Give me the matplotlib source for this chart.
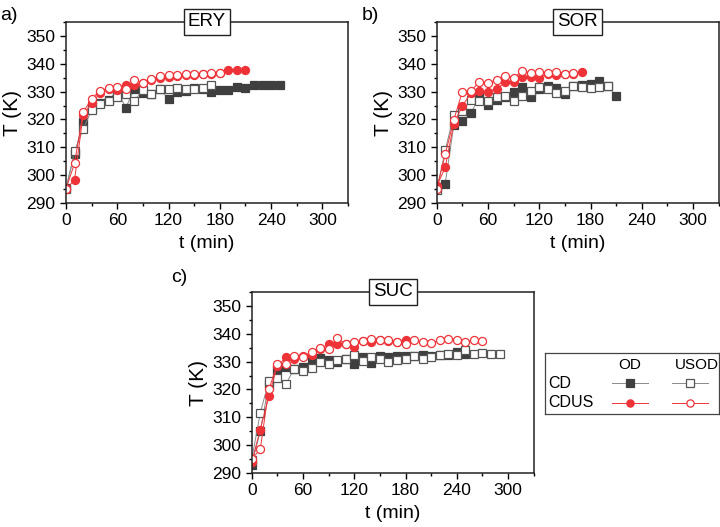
import numpy as np
import matplotlib
matplotlib.use('Agg')
import matplotlib.pyplot as plt
from matplotlib.ticker import MultipleLocator
from matplotlib.lines import Line2D

plt.rcParams['font.family'] = ['Liberation Sans', 'DejaVu Sans']

# ---- data ----
t = np.arange(0, 300, 10)

ery_cd_od = [295.4, 307.6, 319, 324, 326, 327, 330.3, 324.2, 331, 329.5, 329, 331, 327.3,
             330, 330.3, 331.3, 331, 330, 330.5, 330.5, 331.7, 331.3, 332.5, 332.2, 332.2, 332.4]
ery_cd_usod = [295, 308.5, 316.5, 323.3, 325.6, 326.8, 327.9, 329, 326.6, 330.7, 329.3, 330.8,
               330.8, 331.4, 330.8, 331, 331.3, 332.2]
ery_cdus_od = [295, 298.3, 321.5, 325.8, 329.5, 331, 330.5, 332.4, 332.2, 333, 334, 335, 335.3,
               335.5, 336, 336, 336.3, 336.5, 336.8, 337.7, 337.7, 337.6]
ery_cdus_usod = [295, 304.3, 322.5, 327.5, 330.3, 331.3, 331.8, 330.8, 334.3, 333, 334.6, 335.6,
                 336, 335.9, 336.2, 336.2, 336.2, 336.7, 336.8]

sor_cd_od = [295.8, 297, 318, 319.5, 322.2, 328.2, 325.2, 327, 328, 330, 331.8, 328.2, 331,
             332, 331.3, 329.2, 332, 332.3, 332.7, 333.8, 332, 328.5]
sor_cd_usod = [294.5, 309, 321.5, 323, 327, 326.5, 326.5, 328, 328.3, 326.7, 328.5, 330.2,
               331.5, 331, 329.5, 330.2, 332, 331.5, 331.2, 331.5, 332]
sor_cdus_od = [296, 302.8, 318.5, 324.8, 329.5, 330.2, 330, 331, 333.3, 333.5, 335.2, 335.3,
               335, 336.5, 335.8, 336.3, 336.5, 337]
sor_cdus_usod = [295, 307.5, 319.8, 330, 330.3, 333.4, 333.2, 334.2, 335.7, 335, 337.3, 336.8,
                 336.9, 336.7, 336.9, 336.5, 336.8]

suc_cd_od = [293, 305, 322, 326.9, 328.1, 327.5, 328, 330.5, 331.3, 330.5, 330, 331, 329,
             331.5, 329.5, 332, 331.5, 332, 332, 332, 332.5, 332, 332.5, 332.5, 333.5, 332.7]
suc_cd_usod = [294.8, 311.5, 323, 324, 322, 327.5, 326.5, 327.8, 330, 329, 330.5, 331, 332.3,
               330.2, 331.8, 331, 330, 330.5, 331, 332, 331, 331.8, 332.3, 332.6, 332.5, 334.3,
               332.8, 333.2, 332.8, 332.8]
suc_cdus_od = [294, 305.5, 317.6, 328.5, 331.5, 331, 332, 332.5, 334.5, 336.3, 336.5, 336.5,
               335.3, 337.5, 337, 337.8, 337.5, 337, 337.7]
suc_cdus_usod = [295, 298.5, 320, 329, 329, 332, 331.8, 333.5, 335, 334.5, 338.5, 336.3, 337,
                 337.5, 338.2, 337.6, 337.7, 337, 336.5, 337.6, 337, 336.7, 337.6, 338.3, 337.8,
                 337.2, 337.6, 337.3]

panels = [
    ('a)', 'ERY', ery_cd_od, ery_cd_usod, ery_cdus_od, ery_cdus_usod),
    ('b)', 'SOR', sor_cd_od, sor_cd_usod, sor_cdus_od, sor_cdus_usod),
    ('c)', 'SUC', suc_cd_od, suc_cd_usod, suc_cdus_od, suc_cdus_usod),
]

DARK = '#3f3f3f'
GRAY = '#8a8a8a'
RED = '#ee3338'
ms = 5.8

styles = {
    'cd_od': dict(marker='s', color=GRAY, mfc=DARK, mec=DARK),
    'cd_usod': dict(marker='s', color=GRAY, mfc='white', mec='#555555'),
    'cdus_od': dict(marker='o', color=RED, mfc=RED, mec=RED),
    'cdus_usod': dict(marker='o', color=RED, mfc='white', mec=RED),
}

W, H = 720, 527
fig = plt.figure(figsize=(W / 100, H / 100), dpi=100)

positions = [(66, 22), (436.7, 22), (251.7, 292)]
aw, ah = 282, 181


def draw_panel(ax, name, cd_od, cd_usod, cdus_od, cdus_usod):
    for key, vals in [('cd_od', cd_od), ('cd_usod', cd_usod),
                      ('cdus_od', cdus_od), ('cdus_usod', cdus_usod)]:
        st = styles[key]
        ax.plot(t[:len(vals)], vals, linestyle='-', linewidth=0.7, markersize=ms,
                markeredgewidth=0.9, **st)
    ax.set_xlim(0, 330)
    ax.set_ylim(290, 355)
    ax.xaxis.set_major_locator(MultipleLocator(60))
    ax.xaxis.set_minor_locator(MultipleLocator(30))
    ax.yaxis.set_major_locator(MultipleLocator(10))
    ax.yaxis.set_minor_locator(MultipleLocator(5))
    ax.tick_params(which='both', direction='out', top=False, right=False,
                   width=1.0, labelsize=12.5)
    ax.tick_params(which='major', length=4.5, pad=3)
    ax.tick_params(which='minor', length=2.5)
    for sp in ax.spines.values():
        sp.set_linewidth(1.1)
        sp.set_color('#222222')
    ax.set_xlabel('t (min)', fontsize=14, labelpad=5)
    ax.set_ylabel('T (K)', fontsize=15, labelpad=3)
    ax.text(0.5, 1.0, name, transform=ax.transAxes, ha='center', va='center',
            fontsize=13.5, bbox=dict(boxstyle='square,pad=0.22', fc='white',
                                     ec='#222222', lw=1.0), zorder=10)


for (lbl, name, a, b, c, d), (x0, y0) in zip(panels, positions):
    ax = fig.add_axes([x0 / W, 1 - (y0 + ah) / H, aw / W, ah / H])
    draw_panel(ax, name, a, b, c, d)

fig.text(0 / W, 1 - 15 / H, 'a)', fontsize=14, ha='left', va='center')
fig.text(362 / W, 1 - 15 / H, 'b)', fontsize=14, ha='left', va='center')
fig.text(171 / W, 1 - 277 / H, 'c)', fontsize=14, ha='left', va='center')

# ---- legend table ----
lx0, ly0, lx1, ly1 = 545, 353, 719, 414
lax = fig.add_axes([lx0 / W, 1 - ly1 / H, (lx1 - lx0) / W, (ly1 - ly0) / H])
lax.set_xlim(lx0, lx1)
lax.set_ylim(ly1, ly0)
lax.set_xticks([])
lax.set_yticks([])
for sp in lax.spines.values():
    sp.set_linewidth(0.9)
    sp.set_color('#444444')

col_x = [630, 697]
row_y = [383.3, 402.7]
lax.text(col_x[0], 365, 'OD', ha='center', va='center', fontsize=11)
lax.text(col_x[1], 365, 'USOD', ha='center', va='center', fontsize=11)
lax.text(548, row_y[0], 'CD', ha='left', va='center', fontsize=11.5)
lax.text(548, row_y[1], 'CDUS', ha='left', va='center', fontsize=11.5)
keys = [['cd_od', 'cd_usod'], ['cdus_od', 'cdus_usod']]
line_x = [630, 690]
for i, ry in enumerate(row_y):
    for j, cx in enumerate(line_x):
        st = dict(styles[keys[i][j]])
        lax.add_line(Line2D([cx - 18, cx + 18], [ry, ry], color=st['color'], lw=0.7))
        lax.add_line(Line2D([cx], [ry], marker=st['marker'], mfc=st['mfc'], mec=st['mec'],
                            markersize=ms - 0.6, markeredgewidth=0.9, linestyle='none'))

fig.savefig('out.png', dpi=100)
